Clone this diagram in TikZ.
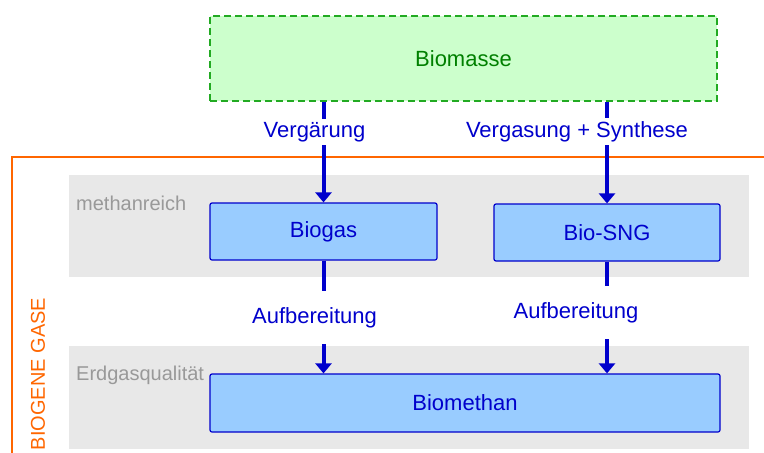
\documentclass[tikz,border=0pt]{standalone}
\usepackage{fontspec}
\setmainfont{Liberation Sans}
\usetikzlibrary{arrows.meta}
\definecolor{bmfill}{HTML}{CCFFCC}
\definecolor{bmdraw}{HTML}{22AA22}
\definecolor{bmtext}{HTML}{008000}
\definecolor{gasfill}{HTML}{99CCFF}
\definecolor{gasblue}{HTML}{0000CC}
\definecolor{band}{HTML}{E8E8E8}
\definecolor{bandtext}{HTML}{999999}
\definecolor{frameorange}{HTML}{FF6600}
\tikzset{
  gasbox/.style={draw=gasblue, fill=gasfill, line width=1.2pt, rounded corners=2pt,
    text=gasblue, font=\fontsize{22}{26}\selectfont, inner sep=0pt},
  massbox/.style={draw=bmdraw, fill=bmfill, line width=1.2pt, dash pattern=on 7pt off 4pt,
    text=bmtext, font=\fontsize{22}{26}\selectfont, inner sep=0pt},
  flowarrow/.style={draw=gasblue, line width=4pt, -{Triangle[width=16pt,length=10pt]}},
  steplabel/.style={fill=white, text=gasblue, font=\fontsize{22}{26}\selectfont, anchor=base, inner xsep=2pt},
  bandlabel/.style={text=bandtext, font=\fontsize{20}{24}\selectfont, anchor=base west, inner sep=0pt},
}
\begin{document}
\begin{tikzpicture}[x=1pt,y=-1pt]
\useasboundingbox (0,0) rectangle (764,453);
% frame
\draw[frameorange, line width=2pt] (12,460) -- (12,157) -- (770,157);
\node[rotate=90, anchor=base, text=frameorange, font=\fontsize{20}{24}\selectfont, inner sep=0pt] (frame) at (45,374) {BIOGENE GASE};
% bands
\fill[band] (69,175) rectangle (749,277);
\fill[band] (69,346) rectangle (749,449);
\node[bandlabel] (rich) at (76,210) {methanreich};
\node[bandlabel] (quali) at (76,380) {Erdgasqualität};
% boxes
\node[massbox, minimum width=507pt, minimum height=85pt] (biomasse) at (463.5,58.5) {Biomasse};
\node[gasbox, minimum width=227pt, minimum height=57pt] (biogas) at (323.5,231.5) {Biogas};
\node[gasbox, minimum width=226pt, minimum height=57pt] (sng) at (607,232.5) {Bio-SNG};
\node[gasbox, minimum width=510pt, minimum height=58pt] (biomethan) at (465,403) {Biomethan};
% arrows
\draw[flowarrow] (biomasse.south -| biogas.north) -- (biogas.north);
\draw[flowarrow] (biomasse.south -| sng.north) -- (sng.north);
\draw[flowarrow] (biogas.south) -- (biomethan.north -| biogas.south);
\draw[flowarrow] (sng.south) -- (biomethan.north -| sng.south);
% labels
\node[steplabel, inner ysep=3pt] (l1) at (314.5,137) {Vergärung};
\node[steplabel, inner ysep=3pt] (l2) at (577,137) {Vergasung + Synthese};
\node[steplabel, inner ysep=16pt] (l3) at (314.5,323) {Aufbereitung};
\node[steplabel, inner ysep=16pt] (l4) at (576,318) {Aufbereitung};
\end{tikzpicture}
\end{document}
